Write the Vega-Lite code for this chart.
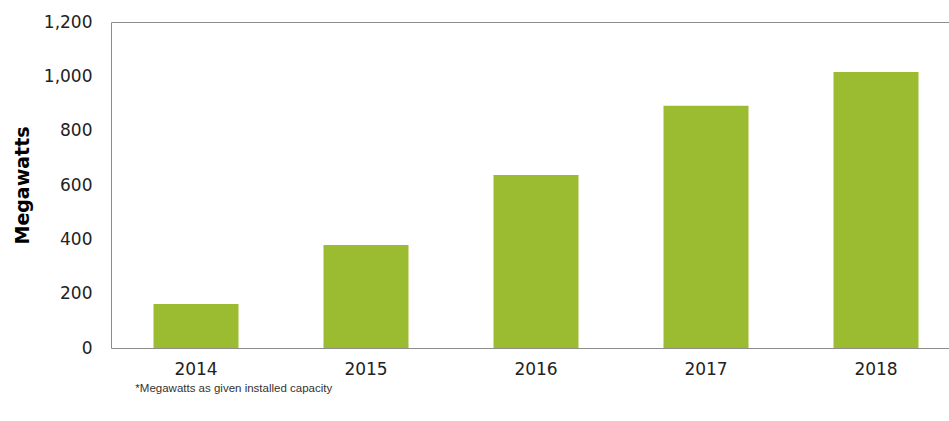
{
  "$schema": "https://vega.github.io/schema/vega-lite/v6.json",
  "autosize": "none",
  "padding": {"left": 111, "top": 22, "right": 0, "bottom": 73},
  "width": 850,
  "height": 326,
  "background": "white",
  "config": {
    "font": "DejaVu Sans",
    "view": {"stroke": "#8c8c8c", "strokeWidth": 1}
  },
  "title": {
    "text": "*Megawatts as given installed capacity",
    "orient": "bottom",
    "anchor": "start",
    "dx": 122,
    "offset": 6,
    "fontSize": 11.5,
    "fontWeight": "normal",
    "color": "#333333",
    "font": "Liberation Sans"
  },
  "data": {
    "values": [
      {"year": "2014", "mw": 162},
      {"year": "2015", "mw": 379},
      {"year": "2016", "mw": 637},
      {"year": "2017", "mw": 892},
      {"year": "2018", "mw": 1016}
    ]
  },
  "mark": {"type": "bar", "color": "#9bbb30"},
  "encoding": {
    "x": {
      "field": "year",
      "type": "ordinal",
      "scale": {"paddingInner": 0.5, "paddingOuter": 0.25},
      "axis": {
        "title": null,
        "labelAngle": 0,
        "ticks": false,
        "domain": false,
        "labelFont": "DejaVu Sans",
        "labelFontSize": 17,
        "labelColor": "#222222",
        "labelPadding": 13
      }
    },
    "y": {
      "field": "mw",
      "type": "quantitative",
      "scale": {"domain": [0, 1200]},
      "axis": {
        "title": "Megawatts",
        "titleFont": "DejaVu Sans",
        "titleFontSize": 19,
        "titleFontWeight": "bold",
        "titleColor": "#000000",
        "titlePadding": 11,
        "values": [0, 200, 400, 600, 800, 1000, 1200],
        "format": ",d",
        "grid": false,
        "ticks": false,
        "domain": false,
        "labelFont": "DejaVu Sans",
        "labelFontSize": 17,
        "labelColor": "#222222",
        "labelPadding": 19
      }
    }
  }
}
